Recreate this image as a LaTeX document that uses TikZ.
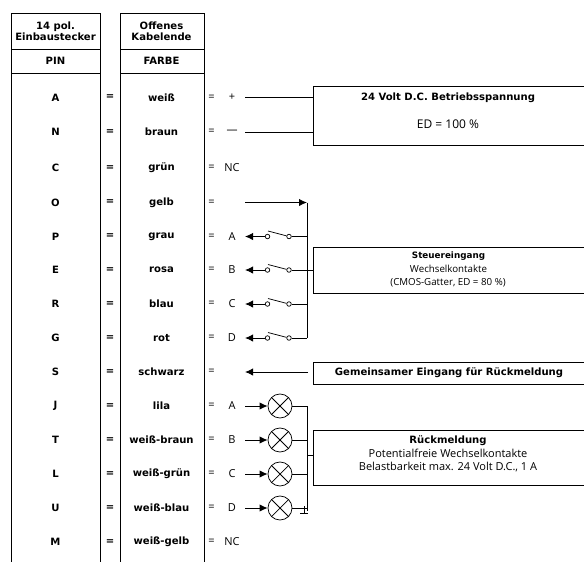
\documentclass[tikz,border=0pt]{standalone}
\usepackage{fontspec}
\setmainfont{Open Sans}
\newfontfamily\boldf{DejaVu Sans}[BoldFont={DejaVu Sans Bold}]
\usetikzlibrary{arrows.meta}
\tikzset{
  x=0.75pt,y=-0.75pt,
  wire/.style={draw=black,line width=0.7pt},
  tipwire/.style={wire,-{Latex[length=6pt,width=5.5pt]}},
  frame/.style={draw=black,line width=0.75pt,inner sep=0pt,anchor=north west},
  bt/.style={font=\boldf\bfseries\fontsize{7.55}{9}\selectfont,inner sep=0pt,align=center},
  rt/.style={font=\fontsize{8.25}{10}\selectfont,inner sep=0pt,align=center},
  btsmall/.style={font=\boldf\bfseries\fontsize{6.6}{8}\selectfont,inner sep=0pt,align=center},
  rtsmall/.style={font=\fontsize{7.3}{9}\selectfont,inner sep=0pt,align=center},
  contact/.style={circle,draw=black,line width=0.55pt,inner sep=0pt,minimum size=3.4pt},
  lamp/.style={circle,draw=black,line width=0.55pt,inner sep=0pt,minimum size=18pt},
}
\begin{document}
\begin{tikzpicture}
\clip (0,0) rectangle (584,561);
% table columns
\draw[line width=0.75pt] (11.5,570) -- (11.5,13.5) -- (100.5,13.5) -- (100.5,570);
\draw[line width=0.75pt] (11.5,49.5) -- (100.5,49.5) (11.5,73.5) -- (100.5,73.5);
\draw[line width=0.75pt] (120,570) -- (120,13.5) -- (204,13.5) -- (204,570);
\draw[line width=0.75pt] (120,49.5) -- (204,49.5) (120,73.5) -- (204,73.5);
\node[bt] (h1) at (55.5,31) {14 pol.\\[-0.6pt]Einbaustecker};
\node[bt] (h2) at (161.5,31) {Offenes\\[-0.6pt]Kabelende};
\node[bt] (h3) at (55.5,60.5) {PIN};
\node[bt] (h4) at (161.5,60.5) {FARBE};
% rows
\foreach \yy/\p/\c in {97.5/A/weiß,132/N/braun,168/C/grün,202.5/O/gelb,236.5/P/grau,270/E/rosa,304/R/blau,338/G/rot,372/S/schwarz,406/J/lila,440/T/weiß-braun,474/L/weiß-grün,508/U/weiß-blau,542/M/weiß-gelb}{
  \node[bt] at (55.5,\yy) {\p};
  \node[bt] at (161.5,\yy) {\c};
  \node[bt] at (110,\yy) {=};
  \node[rt] at (211.5,\yy) {=};
}
% side labels
\node[rt] (plus) at (232,97.5) {+};
\node[rt] (minus) at (232,132) {---};
\node[rt] at (232,168) {NC};
\node[rt] at (232,236.5) {A};
\node[rt] at (232,270) {B};
\node[rt] at (232,304) {C};
\node[rt] at (232,338) {D};
\node[rt] at (232,406) {A};
\node[rt] at (232,440) {B};
\node[rt] at (232,474) {C};
\node[rt] at (232,508) {D};
\node[rt] at (232,542) {NC};
% boxes
\node[frame,minimum width=204pt,minimum height=44.25pt] (b1) at (313,86) {};
\node[frame,minimum width=204pt,minimum height=34.5pt] (b2) at (313,247) {};
\node[frame,minimum width=204pt,minimum height=16.5pt] (b3) at (313,361.5) {};
\node[frame,minimum width=204pt,minimum height=41.25pt] (b4) at (313,429.5) {};
\node[bt] at (448,98) {24 Volt D.C. Betriebsspannung};
\node[rt,font=\fontsize{9}{10}\selectfont] at (448,124.5) {ED = 100 \%};
\node[btsmall] at (448.5,256.5) {Steuereingang};
\node[rtsmall] at (448.5,269) {Wechselkontakte};
\node[rtsmall] at (448,283) {(CMOS-Gatter, ED = 80 \%)};
\node[bt] at (449,373) {Gemeinsamer Eingang für Rückmeldung};
\node[bt] at (448,441) {Rückmeldung};
\node[rt] at (448,453.5) {Potentialfreie Wechselkontakte};
\node[rt] at (448,467) {Belastbarkeit max. 24 Volt D.C., 1 A};
% supply
\coordinate (w1) at (245,97.5);
\coordinate (w2) at (245,132);
\draw[wire] (w1) -- (w1 -| b1.west);
\draw[wire] (w2) -- (w2 -| b1.west);
% common rail
\coordinate (o1) at (245,202.5);
\coordinate (o2) at (307,202.5);
\coordinate (o3) at (307,338);
\draw[tipwire] (o1) -- (o2);
\draw[wire] (o2) -- (o3);
% switches
\foreach \n/\yy in {a/236.5,b/270,c/304,d/338}{
  \coordinate (t\n) at (245,\yy);
  \coordinate (r\n) at (307,\yy);
  \node[contact] (l\n) at (267.5,\yy) {};
  \node[contact] (s\n) at (289,\yy) {};
  \coordinate (f\n) at (268,\yy-5.5);
  \draw[tipwire] (l\n) -- (t\n);
  \draw[wire] (s\n) -- (r\n);
  \draw[line width=0.55pt] (f\n) -- (s\n);
}
\coordinate (rbb) at (307,270);
\draw[wire] (rbb) -- (b2.west |- rbb);
% return
\coordinate (s1) at (245,372);
\coordinate (s2) at (308,372);
\draw[tipwire] (s2) -- (s1);
% lamps
\foreach \n/\yy in {a/406,b/440,c/474,d/508}{
  \coordinate (i\n) at (245,\yy);
  \coordinate (q\n) at (307,\yy);
  \node[lamp] (m\n) at (280,\yy) {};
  \draw[line width=0.55pt] (m\n.45) -- (m\n.225) (m\n.135) -- (m\n.315);
  \draw[tipwire] (i\n) -- (m\n);
  \draw[wire] (m\n) -- (q\n);
}
\coordinate (qa2) at (307,406);
\coordinate (qd2) at (307,508);
\draw[wire] (qa2) -- (qd2);
\coordinate (g0) at (307,511);
\coordinate (g1) at (304,506);
\coordinate (g2) at (304,513.5);
\coordinate (g3) at (300,513.5);
\coordinate (g4) at (308,513.5);
\draw[wire] (qd2) -- (g0);
\draw[wire] (g1) -- (g2);
\draw[wire] (g3) -- (g4);
\coordinate (k) at (307,455);
\draw[wire] (k) -- (b4.west |- k);
\end{tikzpicture}
\end{document}
